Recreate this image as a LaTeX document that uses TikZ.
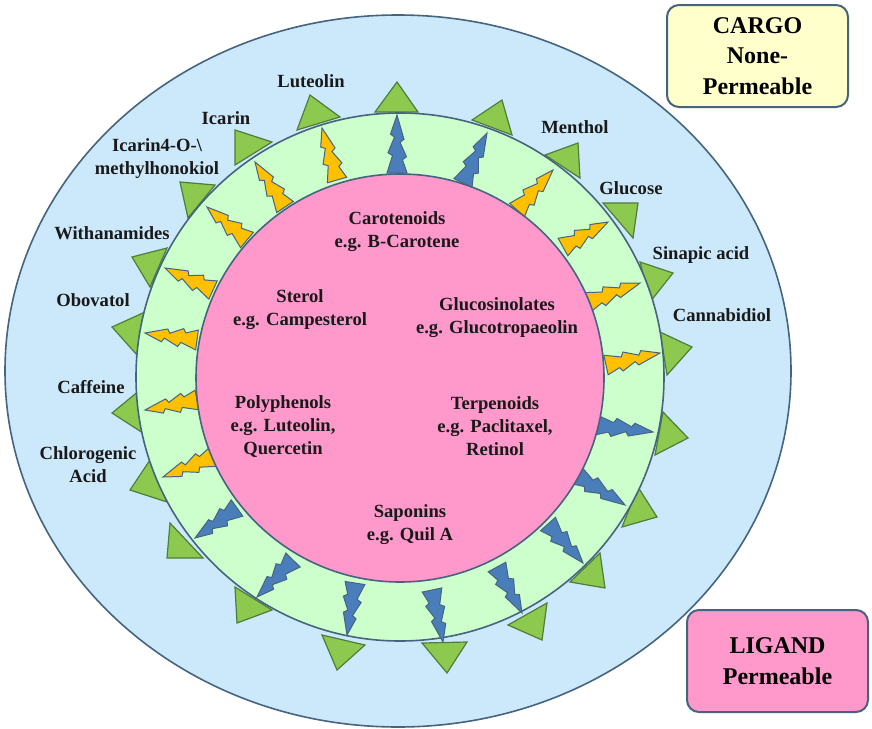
\documentclass[tikz,border=0pt]{standalone}
\usepackage{fontspec}
\setmainfont{Liberation Serif}
\definecolor{skyfill}{HTML}{CCE9FB}
\definecolor{edgecol}{HTML}{46647F}
\definecolor{mint}{HTML}{CCFFCC}
\definecolor{rose}{HTML}{FF99CC}
\definecolor{leaf}{HTML}{8DC94E}
\definecolor{leafedge}{HTML}{4E7D3C}
\definecolor{amber}{HTML}{FFC000}
\definecolor{steel}{HTML}{4A7EBB}
\definecolor{cream}{HTML}{FFFFCC}
\tikzset{
 lbl/.style={font=\bfseries\fontsize{9.3}{11.5}\selectfont, align=center, text=black!90, inner sep=0pt},
 tri/.style={fill=leaf, draw=leafedge, line width=0.6pt, line join=miter},
 yb/.style={fill=amber, draw=edgecol, line width=0.5pt, line join=miter},
 bb/.style={fill=steel, draw=edgecol, line width=0.5pt, line join=miter},
 keybox/.style={draw=edgecol, line width=1pt, rounded corners=6pt, minimum width=90.5pt, minimum height=51pt, align=center, inner sep=2pt, font=\bfseries\fontsize{12}{15.2}\selectfont}
}
\newcommand\mybolt[5]{%
 \pgfmathsetmacro\bang{atan2(-((#5)-(#3)),(#4)-(#2))}%
 \pgfmathsetmacro\blen{veclen((#4)-(#2),(#5)-(#3))}%
 \begin{scope}[shift={(#2,#3)},rotate=\bang]
 \draw[#1] (0,-10) -- ({0.30*\blen},-4.5) -- ({0.35*\blen},-9) -- ({0.62*\blen},-2.5) -- ({0.67*\blen},-6.5) -- (\blen,0) -- ({0.58*\blen},7) -- ({0.53*\blen},3) -- ({0.28*\blen},9.5) -- ({0.23*\blen},5.5) -- (0,10) -- cycle;
 \end{scope}}
\begin{document}
\begin{tikzpicture}[x=0.5pt,y=-0.5pt]
\useasboundingbox (0,0) rectangle (872,728);
\fill[white] (0,0) rectangle (872,728);
% outer membrane
\draw[fill=skyfill, draw=edgecol, line width=0.8pt] (398,371) ellipse [x radius=393, y radius=356];
% triangles
\draw[tri] (375,112) -- (397,82) -- (418,112) -- cycle;
\draw[tri] (297,130) -- (310,95) -- (340,117) -- cycle;
\draw[tri] (235,130) -- (235,165) -- (272,142) -- cycle;
\draw[tri] (180,182) -- (215,185) -- (188,218) -- cycle;
\draw[tri] (132,257) -- (167,248) -- (150,287) -- cycle;
\draw[tri] (112,327) -- (145,312) -- (137,355) -- cycle;
\draw[tri] (112,413) -- (140,390) -- (143,433) -- cycle;
\draw[tri] (130,490) -- (150,460) -- (167,502) -- cycle;
\draw[tri] (170,523) -- (167,558) -- (203,558) -- cycle;
\draw[tri] (235,587) -- (272,610) -- (237,623) -- cycle;
\draw[tri] (322,635) -- (365,645) -- (337,670) -- cycle;
\draw[tri] (422,643) -- (467,642) -- (447,673) -- cycle;
\draw[tri] (508,625) -- (547,603) -- (542,640) -- cycle;
\draw[tri] (570,582) -- (600,553) -- (605,588) -- cycle;
\draw[tri] (622,527) -- (638,487) -- (657,517) -- cycle;
\draw[tri] (655,455) -- (663,412) -- (688,438) -- cycle;
\draw[tri] (660,332) -- (692,347) -- (667,375) -- cycle;
\draw[tri] (640,262) -- (673,273) -- (650,302) -- cycle;
\draw[tri] (603,203) -- (638,203) -- (633,238) -- cycle;
\draw[tri] (545,155) -- (578,143) -- (580,178) -- cycle;
\draw[tri] (472,120) -- (502,100) -- (512,135) -- cycle;
% green ring
\draw[fill=mint, draw=edgecol, line width=0.8pt] (400,377) circle [radius=264];
% bolts
\mybolt{bb}{397}{173}{397}{115}
\mybolt{bb}{463}{183}{487}{133}
\mybolt{yb}{517}{210}{553}{170}
\mybolt{yb}{563}{247}{608}{222}
\mybolt{yb}{588}{302}{640}{283}
\mybolt{yb}{606}{365}{660}{353}
\mybolt{bb}{596}{425}{653}{432}
\mybolt{bb}{576}{475}{625}{505}
\mybolt{bb}{548}{524}{583}{563}
\mybolt{bb}{497}{567}{522}{613}
\mybolt{bb}{432}{590}{443}{642}
\mybolt{bb}{355}{583}{347}{635}
\mybolt{bb}{293}{560}{257}{597}
\mybolt{bb}{237}{508}{195}{538}
\mybolt{yb}{213}{457}{163}{477}
\mybolt{yb}{197}{400}{145}{410}
\mybolt{yb}{197}{340}{145}{333}
\mybolt{yb}{213}{290}{165}{268}
\mybolt{yb}{247}{240}{207}{207}
\mybolt{yb}{285}{207}{255}{162}
\mybolt{yb}{337}{180}{322}{128}
% core
\draw[fill=rose, draw=edgecol, line width=0.8pt] (400,378) circle [radius=204];
% outer labels
\node[lbl] (lut) at (311,81) {Luteolin};
\node[lbl] (ica) at (226,118) {Icarin};
\node[lbl] (ica4) at (157,159) {Icarin4-O-\textbackslash\\methylhonokiol};
\node[lbl] (wit) at (112,233) {Withanamides};
\node[lbl] (obo) at (93,300) {Obovatol};
\node[lbl] (caf) at (91,387) {Caffeine};
\node[lbl] (chl) at (88,465) {Chlorogenic\\Acid};
\node[lbl] (men) at (575,127) {Menthol};
\node[lbl] (glu) at (631,188) {Glucose};
\node[lbl] (sin) at (701,255) {Sinapic acid};
\node[lbl] (can) at (722,315) {Cannabidiol};
% inner labels
\node[lbl] (car) at (397,232) {Carotenoids\\e.g. B-Carotene};
\node[lbl] (ste) at (300,310) {Sterol\\e.g. Campesterol};
\node[lbl] (gls) at (497,318) {Glucosinolates\\e.g. Glucotropaeolin};
\node[lbl] (pol) at (283,427) {Polyphenols\\e.g. Luteolin,\\Quercetin};
\node[lbl] (ter) at (495,426) {Terpenoids\\e.g. Paclitaxel,\\Retinol};
\node[lbl] (sap) at (410,525) {Saponins\\e.g. Quil A};
% legend boxes
\node[keybox, fill=cream] (cargo) at (757.5,56) {CARGO\\None-\\Permeable};
\node[keybox, fill=rose] (ligand) at (777.5,661) {LIGAND\\Permeable};
\end{tikzpicture}
\end{document}
